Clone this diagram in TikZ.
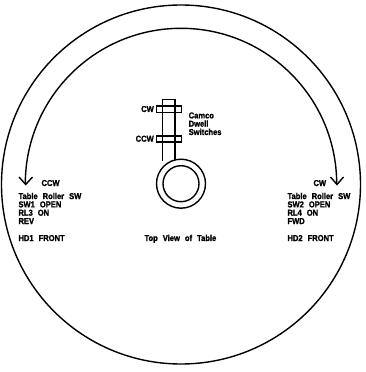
\documentclass[tikz,border=0pt]{standalone}
\usepackage{fontspec}
\setmainfont[FakeStretch=0.88,BoldFeatures={FakeBold=1.2}]{Liberation Sans}
\newcommand{\wgap}{\hspace{5pt}}
\tikzset{
	lbl/.style={inner sep=0pt,anchor=base west,font=\fontsize{8.6}{8.6}\selectfont\bfseries},
	stack/.style={lbl,align=left,font=\fontsize{8.6}{8.3}\selectfont\bfseries},
	heavy/.style={line width=1.4pt}
}
\begin{document}
\begin{tikzpicture}[x=1pt,y=1pt]
	\useasboundingbox (-181,-188) rectangle (185,184);
	\def\tablerim{(0,-0.5) circle (179.5)}
	\def\hubouter{(0,0.3) circle (24.5)}
	\def\hubinner{(0,0.3) circle (18)}
	\def\upperswitch{(-24.3,71.3) rectangle (0.7,78)}
	\def\lowerswitch{(-24.3,42) rectangle (0.7,48)}
	%%%%%%%%
	\draw[heavy] \tablerim \hubouter \hubinner;
	\draw[heavy] \upperswitch \lowerswitch;
	\coordinate (shaftl) at (-18.5,23.3);
	\coordinate (shaftr) at (-6,24);
	\draw[heavy] (shaftl) -- (-18.5,84.3) -- (-6,84.3) -- (shaftr);
	%%%%%%%%
	\coordinate (arcl) at (-155.7,0);
	\coordinate (arcr) at (155.7,0);
	\draw[heavy] (arcl) arc[start angle=180,end angle=0,radius=155.7];
	\coordinate (tipl) at (-155.3,-0.5);
	\coordinate (tipr) at (156,-0.5);
	\draw[heavy] (-162,7) -- (tipl) -- (-148.5,7);
	\draw[heavy] (149.5,7) -- (tipr) -- (162.5,7);
	%%%%%%%%
	\node[lbl] (cwtop) at (-40,72) {CW};
	\node[lbl] (ccwtop) at (-45.5,42.3) {CCW};
	\node[stack] (camco) at (7.5,49) {Camco\\Dwell\\Switches};
	\node[lbl] (ccw) at (-139.7,-2) {CCW};
	\node[lbl] (cw) at (132.3,-2) {CW};
	\node[stack] (leftsw) at (-162.7,-40) {Table\wgap Roller\wgap SW\\SW1\wgap OPEN\\RL3\wgap ON\\REV};
	\node[stack] (rightsw) at (106.3,-40) {Table\wgap Roller\wgap SW\\SW2\wgap OPEN\\RL4\wgap ON\\FWD};
	\node[lbl] (lefthd) at (-162.7,-57) {HD1\wgap FRONT};
	\node[lbl] (righthd) at (106.3,-57) {HD2\wgap FRONT};
	\node[lbl] (topview) at (-36.7,-57) {Top\wgap View\wgap of\wgap Table};
\end{tikzpicture}
\end{document}
